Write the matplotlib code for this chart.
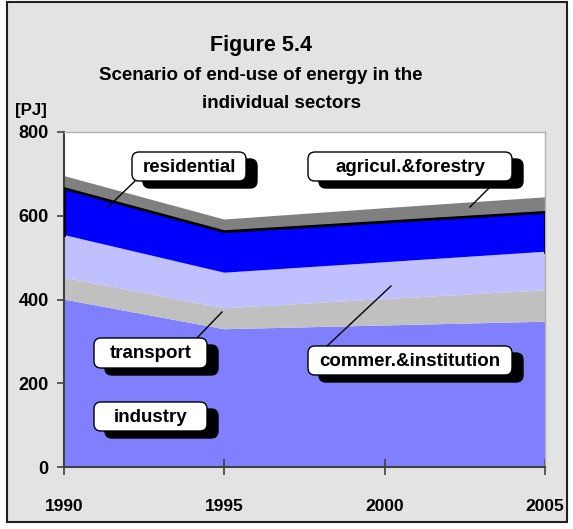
import matplotlib
matplotlib.use("Agg")
import matplotlib.pyplot as plt
from matplotlib.patches import FancyBboxPatch, Rectangle
from matplotlib.lines import Line2D
from matplotlib.transforms import Affine2D
import numpy as np

# data (PJ)
years = [1990, 1995, 2000, 2005]
industry = [400, 329, 338, 347]
transport = [52, 50, 63, 75]
commerce = [102, 85, 88, 92]
residential = [111, 98, 96, 94]
agriculture = [30, 29, 33, 36]

series = [industry, transport, commerce, residential, agriculture]
colours = ['#8080FF', '#C0C0C0', '#C0C0FF', '#0000FF', '#808080']
yticks = [0, 200, 400, 600, 800]

plt.rcParams['font.family'] = ['Liberation Sans', 'DejaVu Sans']
plt.rcParams['font.weight'] = 'bold'

W, H = 573, 529
fig = plt.figure(figsize=(W / 100, H / 100), dpi=100, facecolor='white')

#pixel transform (origin top-left)
px = Affine2D().scale(1 / W, -1 / H).translate(0, 1) + fig.transFigure

#grey frame around the whole chart
fig.patches.append(Rectangle((7, 2), 560, 520, transform=px, facecolor='#E3E3E3',
                             edgecolor='#202020', lw=1.5, zorder=-5))

ax = fig.add_axes([64 / W, (H - 467) / H, (545 - 64) / W, (467 - 132) / H])
ax.set_zorder(1)
ax.set_facecolor('white')
ax.stackplot(years, *series, colors=colours, linewidth=0)

#black border on the residential series
bottom = np.array(industry) + np.array(transport) + np.array(commerce)
top = bottom + np.array(residential)
ax.plot(years, top, color='black', lw=2, zorder=3, solid_capstyle='butt')
ax.plot([years[0], years[0]], [bottom[0], top[0]], color='black', lw=2, zorder=3)
ax.plot([years[-1], years[-1]], [bottom[-1], top[-1]], color='black', lw=2, zorder=3)

ax.set_xlim(1990, 2005)
ax.set_ylim(0, 800)
ax.set_xticks(years)
ax.set_yticks(yticks)
ax.tick_params(axis='y', direction='out', length=5, width=1.2, color='#404040',
               labelsize=13, pad=6)
ax.tick_params(axis='x', direction='inout', length=12, width=1.2, color='#404040',
               labelsize=12.5, pad=17)
for lab in ax.get_xticklabels() + ax.get_yticklabels():
    lab.set_fontweight('bold')
for s in ['left', 'bottom']:
    ax.spines[s].set_color('#404040')
    ax.spines[s].set_linewidth(1.5)
for s in ['top', 'right']:
    ax.spines[s].set_color('#B0B0B0')
    ax.spines[s].set_linewidth(1)

#titles
fig.text(261 / W, 1 - 45 / H, 'Figure 5.4', ha='center', va='center', fontsize=15.5,
         fontweight='bold')
fig.text(261 / W, 1 - 75 / H, 'Scenario of end-use of energy in the', ha='center',
         va='center', fontsize=13.5, fontweight='bold')
fig.text(282 / W, 1 - 103 / H, 'individual sectors', ha='center', va='center',
         fontsize=13.5, fontweight='bold')
fig.text(15 / W, 1 - 110 / H, '[PJ]', ha='left', va='center', fontsize=12.2,
         fontweight='bold')

#series labels: (text, box x0, y0, x1, y1, leader line)
labels = [
    ('residential', 132, 152, 246, 181, [(135, 181), (108, 207)]),
    ('agricul.&forestry', 308, 152, 512, 181, [(489, 188), (470, 207)]),
    ('transport', 94, 338, 207, 368, [(197, 338), (222, 312)]),
    ('commer.&institution', 308, 346, 512, 375, [(327, 346), (391, 286)]),
    ('industry', 94, 402, 207, 431, None),
]
for text, x0, y0, x1, y1, leader in labels:
    if leader:
        fig.lines.append(Line2D([leader[0][0], leader[1][0]], [leader[0][1], leader[1][1]],
                                transform=px, color='black', lw=1, zorder=5))
    fig.patches.append(FancyBboxPatch((x0 + 11, y0 + 7), x1 - x0, y1 - y0,
                                      boxstyle='round,pad=0,rounding_size=7',
                                      transform=px, facecolor='black',
                                      edgecolor='black', zorder=6))
    fig.patches.append(FancyBboxPatch((x0, y0), x1 - x0, y1 - y0,
                                      boxstyle='round,pad=0,rounding_size=7',
                                      transform=px, facecolor='white',
                                      edgecolor='black', lw=1, zorder=7))
    fig.text((x0 + x1) / 2 / W, 1 - ((y0 + y1) / 2 + 1) / H, text, ha='center',
             va='center', fontsize=13.5, fontweight='bold', zorder=8)

fig.savefig('out.png', dpi=100, facecolor=fig.get_facecolor())
